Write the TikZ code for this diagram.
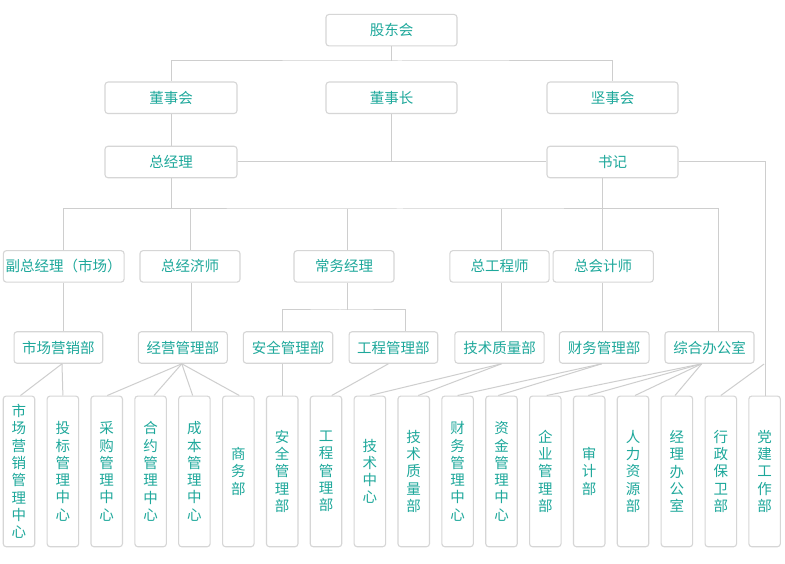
\documentclass[tikz,border=0pt]{standalone}
\usepackage{fontspec}
\setmainfont{Noto Sans CJK SC}
\usetikzlibrary{calc}
\definecolor{tealtxt}{RGB}{30,168,155}
\definecolor{boxline}{RGB}{214,214,214}
\definecolor{connline}{RGB}{206,206,206}
\begin{document}
\begin{tikzpicture}[x=1pt,y=-1pt,
  boxh/.style={draw=boxline, line width=1.1pt, rounded corners=3pt, fill=white,
    text=tealtxt, font=\fontsize{14.5}{17}\selectfont, inner sep=0pt, minimum height=31.5pt},
  boxv/.style={draw=boxline, line width=1.1pt, rounded corners=3pt, fill=white,
    text=tealtxt, font=\fontsize{14.5}{17.3}\selectfont, inner sep=0pt, align=center,
    minimum width=31.5pt, minimum height=150.7pt},
  conn/.style={draw=connline, line width=1pt}]
\fill[white] (0,0) rectangle (785,564);
\useasboundingbox (0,0) rectangle (785,564);

% coordinates for buses
\coordinate (bus1) at (400,61);
\coordinate (bus2) at (400,209);
\coordinate (bus3) at (340,310);

% ---- connectors (drawn first, boxes on top) ----
\begin{scope}[on background layer/.style={}]
\end{scope}

% top level nodes
\node[boxh, minimum width=131pt] (gd)  at (391.5,30.2) {股东会};
\node[boxh, minimum width=132pt] (dsh) at (171,97.8) {董事会};
\node[boxh, minimum width=131pt] (dsz) at (391.5,97.8) {董事长};
\node[boxh, minimum width=131pt] (jsh) at (612.5,97.8) {坚事会};
\node[boxh, minimum width=132pt] (zjl) at (171,162) {总经理};
\node[boxh, minimum width=131pt] (sj)  at (612.5,162) {书记};

% row 3
\node[boxh, minimum width=120.7pt] (fz)  at (63.7,266.4) {副总经理（市场）};
\node[boxh, minimum width=100pt]   (zjj) at (190,266.4) {总经济师};
\node[boxh, minimum width=100pt]   (cw)  at (344,266.4) {常务经理};
\node[boxh, minimum width=99.3pt]  (zgc) at (499.5,266.4) {总工程师};
\node[boxh, minimum width=100.3pt] (zkj) at (603.2,266.4) {总会计师};

% row 4
\node[boxh, minimum width=88.7pt] (scyx) at (58.4,347.5) {市场营销部};
\node[boxh, minimum width=89pt]   (jygl) at (182.8,347.5) {经营管理部};
\node[boxh, minimum width=89.4pt] (aqgl) at (288,347.5) {安全管理部};
\node[boxh, minimum width=88.7pt] (gcgl) at (393.4,347.5) {工程管理部};
\node[boxh, minimum width=89.3pt] (jszl) at (499.5,347.5) {技术质量部};
\node[boxh, minimum width=89.7pt] (cwgl) at (604.2,347.5) {财务管理部};
\node[boxh, minimum width=89pt]   (zhbg) at (709.5,347.5) {综合办公室};

% bottom row
\node[boxv] (b0)  at (19.0,471.4)  {市\\场\\营\\销\\管\\理\\中\\心};
\node[boxv] (b1)  at (62.9,471.4)  {投\\标\\管\\理\\中\\心};
\node[boxv] (b2)  at (106.7,471.4) {采\\购\\管\\理\\中\\心};
\node[boxv] (b3)  at (150.6,471.4) {合\\约\\管\\理\\中\\心};
\node[boxv] (b4)  at (194.4,471.4) {成\\本\\管\\理\\中\\心};
\node[boxv] (b5)  at (238.3,471.4) {商\\务\\部};
\node[boxv] (b6)  at (282.2,471.4) {安\\全\\管\\理\\部};
\node[boxv] (b7)  at (326.0,471.4) {工\\程\\管\\理\\部};
\node[boxv] (b8)  at (369.9,471.4) {技\\术\\中\\心};
\node[boxv] (b9)  at (413.7,471.4) {技\\术\\质\\量\\部};
\node[boxv] (b10) at (457.6,471.4) {财\\务\\管\\理\\中\\心};
\node[boxv] (b11) at (501.5,471.4) {资\\金\\管\\理\\中\\心};
\node[boxv] (b12) at (545.3,471.4) {企\\业\\管\\理\\部};
\node[boxv] (b13) at (589.2,471.4) {审\\计\\部};
\node[boxv] (b14) at (633.0,471.4) {人\\力\\资\\源\\部};
\node[boxv] (b15) at (676.9,471.4) {经\\理\\办\\公\\室};
\node[boxv] (b16) at (720.8,471.4) {行\\政\\保\\卫\\部};
\node[boxv] (b17) at (764.6,471.4) {党\\建\\工\\作\\部};

% ---- connectors ----
% top
\draw[conn] (gd.south) -- (gd.south |- bus1);
\draw[conn] (dsh.north) |- (bus1) -| (jsh.north);
\draw[conn] (dsh.south) -- (zjl.north);
\draw[conn] (dsz.south) -- (dsz.south |- zjl.east);
\draw[conn] (zjl.east) -- (sj.west);
% 书记 right to 党建工作部
\draw[conn] ([xshift=0pt]sj.east) -| ([xshift=1pt]b17.north);
\draw[conn] ([xshift=-0.5pt]b17.north |- 0,364) -- (b16.north);
% 总经理 bus
\draw[conn] (zjl.south) -- (zjl.south |- bus2);
\draw[conn] (fz.north) |- (bus2) -| ([xshift=8.5pt]zhbg.north);
\draw[conn] (zjj.north) -- (zjj.north |- bus2);
\draw[conn] ([xshift=3.5pt]cw.north) -- ([xshift=3.5pt]cw.north |- bus2);
\draw[conn] ([xshift=2pt]zgc.north) -- ([xshift=2pt]zgc.north |- bus2);
\draw[conn] ([xshift=-10.5pt]sj.south) -- ([xshift=-10.5pt]sj.south |- zkj.north);
% row 3 to row 4
\draw[conn] (fz.south) -- (fz.south |- scyx.north);
\draw[conn] ([xshift=1pt]zjj.south) -- ([xshift=1pt]zjj.south |- jygl.north);
\draw[conn] ([xshift=3.5pt]cw.south) -- ([xshift=3.5pt]cw.south |- bus3);
\draw[conn] ([xshift=-5.3pt]aqgl.north) |- (bus3) -| ([xshift=11.6pt]gcgl.north);
\draw[conn] ([xshift=2pt]zgc.south) -- ([xshift=2pt]zgc.south |- jszl.north);
\draw[conn] ([xshift=-1pt]zkj.south) -- ([xshift=-1pt]zkj.south |- cwgl.north);
% row 4 to bottom
\coordinate (p1) at ([xshift=3.6pt]scyx.south);
\draw[conn] (p1) -- ([xshift=1.5pt]b0.north);
\draw[conn] (p1) -- (b1.north);
\coordinate (p2) at ([xshift=-1pt]jygl.south);
\draw[conn] (p2) -- ([xshift=0.6pt]b2.north);
\draw[conn] (p2) -- ([xshift=3.4pt]b3.north);
\draw[conn] (p2) -- ([xshift=-1.7pt]b4.north);
\draw[conn] (p2) -- ([xshift=1pt]b5.north);
\draw[conn] ([xshift=-5.3pt]aqgl.south) -- ([xshift=0.5pt]b6.north);
\coordinate (p4) at ([xshift=-5pt]gcgl.south);
\draw[conn] (p4) -- ([xshift=5.7pt]b7.north);
\coordinate (p5) at ([xshift=2pt]jszl.south);
\draw[conn] (p5) -- (b8.north);
\draw[conn] (p5) -- ([xshift=4.6pt]b9.north);
\coordinate (p6) at ([xshift=-2.5pt]cwgl.south);
\draw[conn] (p6) -- (b10.north);
\draw[conn] (p6) -- ([xshift=-3.2pt]b11.north);
\coordinate (p7) at ([xshift=-7.8pt]zhbg.south);
\draw[conn] (p7) -- ([xshift=1.4pt]b12.north);
\draw[conn] (p7) -- ([xshift=-0.9pt]b13.north);
\draw[conn] (p7) -- ([xshift=2pt]b14.north);
\draw[conn] (p7) -- ([xshift=-1.9pt]b15.north);
\end{tikzpicture}
\end{document}
